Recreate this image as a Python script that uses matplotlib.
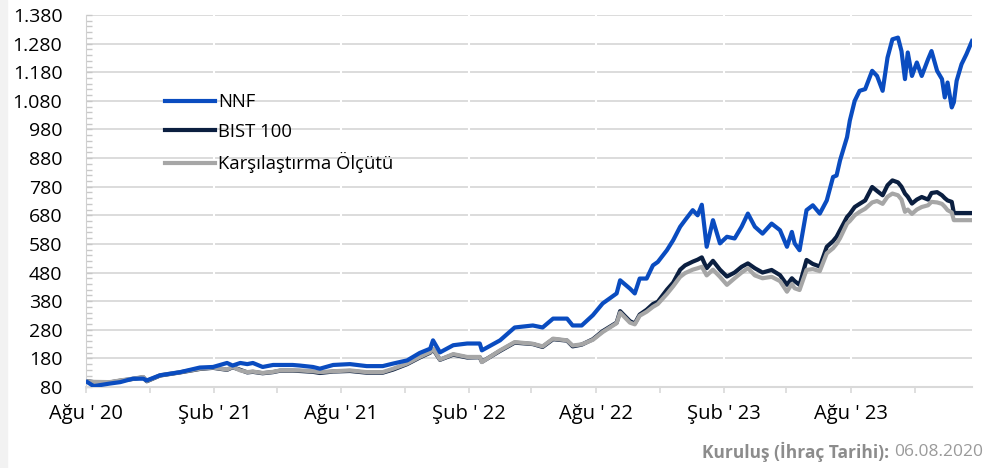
import matplotlib.pyplot as plt
from matplotlib.ticker import MultipleLocator, FuncFormatter
from matplotlib.patches import Rectangle
import matplotlib.dates as mdates
import pandas as pd

plt.rcParams['font.family'] = ['Open Sans', 'DejaVu Sans']

# values (index, start = 100)
dates = ['2020-08-03', '2020-08-12', '2020-09-04', '2020-09-19', '2020-10-07', '2020-10-22', '2020-10-27',
         '2020-11-15', '2020-12-14', '2021-01-11', '2021-01-30', '2021-02-19', '2021-02-27', '2021-03-10',
         '2021-03-20', '2021-03-28', '2021-04-11', '2021-04-26', '2021-05-06', '2021-05-24', '2021-06-03',
         '2021-06-22', '2021-07-02', '2021-07-21', '2021-08-14', '2021-09-07', '2021-09-30', '2021-10-15',
         '2021-11-04', '2021-11-22', '2021-12-07', '2021-12-11', '2021-12-21', '2022-01-09', '2022-01-29',
         '2022-02-16', '2022-02-19', '2022-03-17', '2022-04-07', '2022-05-03', '2022-05-17', '2022-06-01',
         '2022-06-21', '2022-06-29', '2022-07-12', '2022-07-28', '2022-08-11', '2022-08-31', '2022-09-05',
         '2022-09-19', '2022-09-26', '2022-10-03', '2022-10-13', '2022-10-22', '2022-10-29', '2022-11-11',
         '2022-11-20', '2022-11-30', '2022-12-07', '2022-12-18', '2022-12-25', '2022-12-31', '2023-01-07',
         '2023-01-16', '2023-01-26', '2023-02-05', '2023-02-16', '2023-02-26', '2023-03-07', '2023-03-17',
         '2023-03-28', '2023-04-10', '2023-04-22', '2023-05-02', '2023-05-09', '2023-05-13', '2023-05-20',
         '2023-05-30', '2023-06-08', '2023-06-18', '2023-06-28', '2023-07-07', '2023-07-12', '2023-07-17',
         '2023-07-27', '2023-07-31', '2023-08-07', '2023-08-14', '2023-08-22', '2023-09-01', '2023-09-08',
         '2023-09-16', '2023-09-23', '2023-09-30', '2023-10-08', '2023-10-13', '2023-10-18', '2023-10-22',
         '2023-10-28', '2023-11-04', '2023-11-11', '2023-11-20', '2023-11-25', '2023-12-03', '2023-12-10',
         '2023-12-14', '2023-12-18', '2023-12-24', '2023-12-27', '2023-12-31', '2024-01-07', '2024-01-14',
         '2024-01-22']

nnf = [97, 83, 92, 97, 109, 109, 103, 121, 132, 148, 150, 164, 155, 164, 160, 164, 150, 157, 157, 157, 155,
       150, 144, 157, 160, 153, 153, 162, 173, 199, 214, 243, 201, 226, 232, 232, 208, 243, 288, 295, 288,
       319, 319, 295, 295, 331, 372, 407, 453, 424, 407, 459, 459, 505, 517, 558, 593, 640, 663, 698, 680,
       717, 570, 663, 582, 605, 599, 640, 686, 640, 616, 651, 628, 570, 622, 582, 558, 698, 715, 686, 732,
       814, 819, 872, 953, 1011, 1080, 1115, 1121, 1185, 1167, 1115, 1231, 1295, 1301, 1254, 1156, 1249,
       1167, 1214, 1167, 1225, 1254, 1185, 1156, 1092, 1144, 1057, 1075, 1150, 1208, 1243, 1289]

bist100 = [100, 97, 96, 102, 108, 114, 100, 120, 131, 143, 147, 140, 149, 140, 131, 133, 128, 132, 137, 137,
           136, 133, 129, 134, 136, 130, 130, 141, 160, 183, 200, 212, 175, 193, 183, 184, 168, 206, 235, 230,
           220, 247, 242, 222, 228, 247, 275, 305, 345, 310, 302, 333, 350, 370, 378, 420, 445, 490, 505, 518,
           525, 533, 495, 521, 490, 466, 480, 500, 512, 495, 480, 489, 471, 437, 460, 450, 437, 524, 510, 501,
           570, 590, 605, 628, 674, 685, 709, 720, 732, 779, 765, 750, 785, 802, 795, 780, 756, 745, 721, 735,
           744, 735, 758, 761, 750, 740, 732, 727, 688, 688, 688, 688, 688]

olcut = [100, 98, 97, 103, 109, 115, 101, 121, 132, 144, 148, 141, 150, 138, 132, 134, 129, 133, 138, 138,
         138, 135, 132, 135, 138, 132, 132, 144, 162, 185, 202, 214, 176, 195, 185, 185, 167, 208, 237, 231,
         222, 249, 243, 225, 229, 245, 272, 303, 340, 305, 299, 329, 343, 360, 370, 405, 432, 465, 478, 490,
         495, 500, 470, 490, 465, 437, 460, 480, 495, 470, 460, 465, 450, 413, 440, 425, 419, 489, 492, 485,
         547, 565, 580, 600, 651, 660, 680, 692, 703, 725, 730, 720, 745, 756, 750, 735, 692, 700, 685, 700,
         709, 715, 727, 725, 720, 710, 698, 690, 663, 663, 663, 663, 663]

tick_dates = ['2020-08-01', '2021-02-01', '2021-08-01', '2022-02-01', '2022-08-01', '2023-02-01', '2023-08-01']
tick_labels = ["Ağu ' 20", "Şub ' 21", "Ağu ' 21", "Şub ' 22", "Ağu ' 22", "Şub ' 23", "Ağu ' 23"]

x = pd.to_datetime(dates)
ticks = pd.to_datetime(tick_dates)

fig = plt.figure(figsize=(9.95, 4.68), dpi=100)
fig.patches.append(Rectangle((0, 0), 7 / 995, 1, transform=fig.transFigure, color='#f2f2f2', zorder=0))
ax = fig.add_axes([86 / 995, 81 / 468, 886 / 995, 372 / 468])

l_bist, = ax.plot(x, bist100, color='#0b1f40', lw=3.0, label='BIST 100', zorder=2)
l_olcut, = ax.plot(x, olcut, color='#a6a6a6', lw=3.0, label='Karşılaştırma Ölçütü', zorder=3)
l_nnf, = ax.plot(x, nnf, color='#0a4cc0', lw=3.0, label='NNF', zorder=4)

ax.set_ylim(80, 1380)
ax.set_xlim(pd.Timestamp('2020-08-01'), pd.Timestamp('2024-01-22'))

ax.yaxis.set_major_locator(MultipleLocator(100, offset=80))
ax.yaxis.set_minor_locator(MultipleLocator(20))
ax.yaxis.set_major_formatter(FuncFormatter(lambda v, p: f'{v:,.0f}'.replace(',', '.')))
ax.tick_params(axis='y', which='both', direction='in', length=4, color='#c8c8c8', width=1)
ax.tick_params(axis='y', which='major', labelsize=14, pad=17)

ax.set_xticks(ticks)
ax.set_xticklabels(tick_labels)
ax.xaxis.set_minor_locator(mdates.MonthLocator(bymonth=(2, 5, 8, 11)))
ax.tick_params(axis='x', which='both', direction='out', length=4.5, color='#d9d9d9', width=1.2)
ax.tick_params(axis='x', which='major', labelsize=14.5, pad=8)

ax.set_axisbelow(True)
ax.grid(axis='y', color='#d9d9d9', lw=1.3)
for t in ticks[1:]:
    ax.axvline(t, color='white', lw=1.5, zorder=1)

for s in ['top', 'right']:
    ax.spines[s].set_visible(False)
ax.spines['left'].set_color('#d0d0d0')
ax.spines['bottom'].set_color('#d9d9d9')
ax.spines['bottom'].set_linewidth(1.5)

ax.legend(handles=[l_nnf, l_bist, l_olcut], loc='upper left', bbox_to_anchor=(0.089, 0.79),
          frameon=False, fontsize=13.3, handlelength=2.7, handletextpad=0.2, labelspacing=0.62,
          borderpad=0, borderaxespad=0)

date_txt = fig.text(983 / 995, 16 / 468, '06.08.2020', ha='right', va='center', color='#9a9a9a', fontsize=12.5)
ax.annotate('Kuruluş (İhraç Tarihi): ', xy=(0, 0.5), xycoords=date_txt, ha='right', va='center',
            color='#8c8c8c', fontsize=12.5, fontweight='bold', annotation_clip=False)

fig.savefig('out.png', dpi=100)
